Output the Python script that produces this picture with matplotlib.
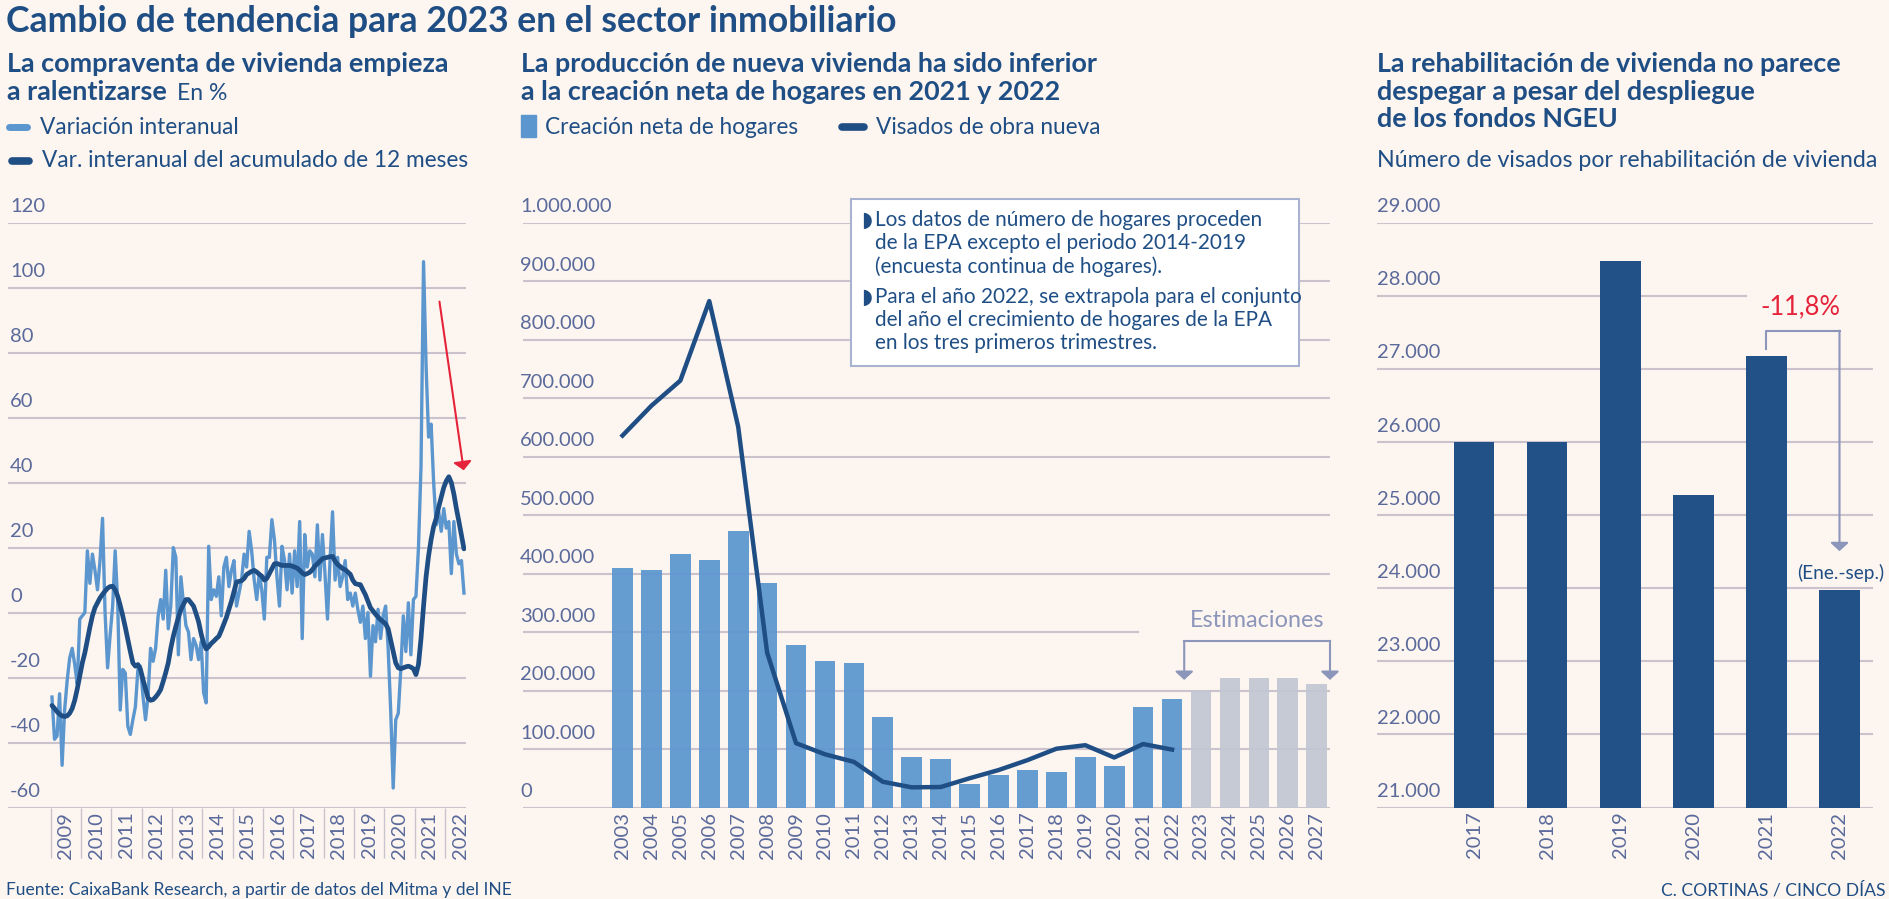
import matplotlib
matplotlib.use("Agg")
import matplotlib.pyplot as plt
from matplotlib import font_manager
from matplotlib.lines import Line2D
from matplotlib.patches import Rectangle
from matplotlib.transforms import offset_copy

# --- data ------------------------------------------------------------------
# Compraventa de vivienda (%), mensual ene-2009 .. ago-2022
var_interanual = [
    -26, -39, -38, -25, -47, -30, -21, -14, -11, -16, -22, -2,          # 2009
    -1, 0, 19, 9, 18, 13, 7, 16, 29, 0, -17, -7,                         # 2010
    2, 19, 3, -30, -17.5, -18.6, -35, -37.5, -33, -29, -17.5, -16.5,     # 2011
    -25.7, -33, -25.7, -11, -15, -11, -1, 4, -2, 13, -5, 2,              # 2012
    20, 17, -13, 11, 3, -4, -6, -14.5, -8, -10, -14.5, -9,               # 2013
    -24.7, -27.8, 20.4, 4, 7, 5, 11, -1, 14, 17, 8, 13,                  # 2014
    16, 2, 6, 10, 18, 14, 25, 19, 10, 4, 12, 7,                          # 2015
    -2, 17, 17, 28.6, 22.5, 11, 2, 20.4, 16, 7, 18, 6,                   # 2016
    19, 8, 28, -8, 24, 14, 19, 18, 11, 27, 10, 24,                       # 2017
    12, -2, 16, 31, 10, 17, 8, 11, 16, 4, 6, 2,                          # 2018
    6, 1, -3, 2, -8, 0, -19.6, -4, -9, 1, -8, -1,                        # 2019
    2, -11, -30, -54, -33, -31, -17.5, -1, -12, 3, -13, 4,               # 2020
    5, 20, 45, 108, 76, 54, 58, 40, 27, 31, 25, 32,                      # 2021
    26, 28, 12, 28, 18, 15, 16, 6,                                       # 2022
]
var_acumulado_12m = [
    -28.6, -29.5, -30.5, -31.3, -31.8, -32, -31.8, -31, -29.5, -27, -23.5, -19.5,
    -15.5, -12.4, -8.5, -4.5, -1, 1.5, 3, 4.5, 5.6, 6.6, 7.5, 8,
    8.1, 7, 5, 2.2, -1, -4.5, -8.3, -12, -15.5, -16.5, -16, -17.5,
    -20.6, -23.5, -26.3, -27, -26.8, -26, -25, -23.7, -21.2, -18.5, -15.5, -11,
    -7.3, -4.3, -1.5, 0.9, 2.5, 4, 4, 3, 2, -0.3, -2.8, -6.5,
    -9.5, -11.2, -10.5, -9.5, -8.8, -8, -7.3, -5.5, -3.5, -1.5, 1, 3.5,
    6.5, 9.4, 9.6, 9.8, 10.5, 11.7, 12.2, 12.7, 13, 12.5, 11.8, 11.2,
    10, 10.5, 12, 13.5, 15, 15.1, 14.8, 14.5, 14.5, 14.5, 14.5, 14.3,
    14, 13.7, 13, 12.2, 11.7, 12, 12.4, 13.2, 14.3, 15, 15.8, 16.6,
    16.8, 17, 17.2, 17.3, 15.8, 14.8, 14.2, 13.5, 13.2, 12.5, 11.8, 10,
    8.9, 8.7, 8.6, 7, 5.5, 3.5, 1.5, 0.5, -0.5, -1.4, -2.2, -2.8,
    -3.5, -5, -8.5, -12, -15.5, -17, -17.3, -17, -16.7, -16.5, -16.8, -17.3,
    -19.1, -16, -8, 2, 11, 17.5, 22.5, 26.5, 29, 32.5, 35.5, 38.5,
    40.5, 41.8, 40, 36.5, 32, 28, 23.8, 19.6,
]
years_compraventa = list(range(2009, 2023))

years_prod = list(range(2003, 2028))
first_estimate_year = 2023
creacion_hogares = [410000, 406000, 433000, 424000, 473000, 384000, 278000, 251000,
                    247000, 154000, 87000, 83000, 40000, 56000, 64500, 60000, 87000,
                    70500, 172000, 185600, 200000, 221600, 221600, 221600, 212000]
years_visados = list(range(2003, 2023))
visados_obra_nueva = [636000, 687000, 730000, 866000, 651000, 265000, 110000, 91000,
                      78000, 44000, 34500, 35000, 50000, 64000, 81000, 100500, 106500,
                      85500, 108500, 99000]

years_rehab = [2017, 2018, 2019, 2020, 2021, 2022]
visados_rehab = [26000, 26000, 28480, 25280, 27180, 23980]

left_ticks = [120, 100, 80, 60, 40, 20, 0, -20, -40, -60]
mid_ticks = list(range(0, 1000001, 100000))
right_ticks = list(range(21000, 29001, 1000))

# --- style -----------------------------------------------------------------
W, H = 1890, 899
TOP, BOTTOM = 222.7, 807.5
BG = "#FDF5EF"
NAVY = "#1F4E85"
BAR_NAVY = "#215186"
LIGHT = "#5B96CF"
GREY_BAR = "#C1C7D3"
TICK = "#5A6A9B"
GRID = "#CAC2CD"
ANNO = "#8C95BA"
RED = "#E5243B"

names = {f.name for f in font_manager.fontManager.ttflist}
SANS = "Lato" if "Lato" in names else "DejaVu Sans"
NARROW = "Liberation Sans Narrow" if "Liberation Sans Narrow" in names else SANS

fig = plt.figure(figsize=(W / 100, H / 100), dpi=100, facecolor=BG)
renderer = fig.canvas.get_renderer()


def fit(t, width):
    t.set_fontsize(t.get_fontsize() * width / t.get_window_extent(renderer).width)
    return t


def put(x, y, s, size, width=None, ha="left", **kw):
    kw.setdefault("color", NAVY)
    kw.setdefault("family", SANS)
    t = fig.text(x / W, 1 - y / H, s, fontsize=size, ha=ha, va="baseline", **kw)
    if width:
        fit(t, width)
    return t


def panel(x0, x1):
    ax = fig.add_axes([x0 / W, 1 - BOTTOM / H, (x1 - x0) / W, (BOTTOM - TOP) / H])
    ax.patch.set_visible(False)
    for s in ax.spines.values():
        s.set_visible(False)
    ax.tick_params(axis="y", left=False, labelleft=False)
    return ax


def ygrid(ax, ticks, xlab, cut=None):
    trans = offset_copy(ax.get_yaxis_transform(), fig=fig, y=10.5, units="dots")
    for v in ticks:
        xmax = (cut or {}).get(v, 1)
        ax.axhline(v, xmin=0, xmax=xmax, color=GRID, lw=1.5, zorder=1)
        ax.text(xlab, v, f"{v:,}".replace(",", "."), transform=trans, fontsize=14.5,
                color=TICK, family=SANS, va="baseline", ha="left")


def years_axis(ax, pos, labels):
    ax.set_xticks(pos)
    ax.set_xticklabels(labels, rotation=90, fontsize=14.5, color=TICK, family=SANS)
    ax.tick_params(axis="x", which="major", length=0, pad=3)


def arrow(ax, start, end, color):
    ax.annotate("", xy=end, xytext=start,
                arrowprops=dict(arrowstyle="-|>,head_length=0.5,head_width=0.55",
                                color=color, lw=1.5, shrinkA=0, shrinkB=0,
                                mutation_scale=10),
                annotation_clip=False)


# --- left: compraventa -------------------------------------------------------
ax1 = panel(8, 466)
ax1.set_xlim(-17.4, 163.8)
ax1.set_ylim(-60, 120)
ygrid(ax1, left_ticks, 0.0045)
months = range(len(var_interanual))
ax1.plot(months, var_interanual, color=LIGHT, lw=2.4, zorder=3)
ax1.plot(months, var_acumulado_12m, color=NAVY, lw=3.4, zorder=4,
         solid_capstyle="round")
years_axis(ax1, [12 * i + 5.5 for i in range(len(years_compraventa))],
           [str(y) for y in years_compraventa])
ax1.set_xticks([12 * i - 0.5 for i in range(len(years_compraventa))], minor=True)
ax1.tick_params(axis="x", which="minor", length=36, width=1, color=GRID)
arrow(ax1, (153.3, 95.7), (162.9, 43.8), RED)

# --- middle: hogares vs visados ----------------------------------------------
ax2 = panel(522.7, 1330)
ax2.set_xlim(-3.45, 24.46)
ax2.set_ylim(0, 1000000)
ygrid(ax2, mid_ticks, -0.0033, cut={300000: 0.762})
colors = [GREY_BAR if y >= first_estimate_year else LIGHT for y in years_prod]
ax2.bar(range(len(years_prod)), creacion_hogares, width=0.715, color=colors,
        alpha=0.93, zorder=2)
ax2.plot(range(len(years_visados)), visados_obra_nueva, color=NAVY, lw=3.2, zorder=4)
years_axis(ax2, range(len(years_prod)), [str(y) for y in years_prod])

ax2.plot([19.42, 24.46], [284900, 284900], color=ANNO, lw=1.5, clip_on=False, zorder=3)
arrow(ax2, (19.42, 284900), (19.42, 218200), ANNO)
arrow(ax2, (24.46, 284900), (24.46, 218200), ANNO)
fit(ax2.text(21.95, 308200, "Estimaciones", fontsize=16, color=ANNO, family=SANS,
             ha="center", va="baseline"), 135)

# note box
box = Rectangle((851 / W, 1 - 366 / H), (1299 - 851) / W, (366 - 199) / H,
                transform=fig.transFigure, facecolor="white", edgecolor="#A8B2D1",
                lw=1.5, zorder=4)
fig.add_artist(box)
note_lines = ["Los datos de número de hogares proceden",
              "de la EPA excepto el periodo 2014-2019",
              "(encuesta continua de hogares).",
              "Para el año 2022, se extrapola para el conjunto",
              "del año el crecimiento de hogares de la EPA",
              "en los tres primeros trimestres."]
note_y = [226, 249.3, 272.7, 302.7, 326, 349.3]
t0 = put(875, note_y[0], note_lines[0], 13, width=385, zorder=5)
note_size = t0.get_fontsize()
for s, y in zip(note_lines[1:], note_y[1:]):
    put(875, y, s, note_size, zorder=5)
for y in (note_y[0], note_y[3]):
    put(861, y, "\u25d7", note_size, family=[SANS, "DejaVu Sans"], zorder=5)

# --- right: rehabilitación ---------------------------------------------------
ax3 = panel(1377, 1872.7)
ax3.set_xlim(-1.327, 5.454)
ax3.set_ylim(21000, 29000)
ygrid(ax3, right_ticks, 0.0, cut={28000: 0.744})
ax3.bar(range(len(years_rehab)), visados_rehab, width=0.556, color=BAR_NAVY, zorder=2)
years_axis(ax3, range(len(years_rehab)), [str(y) for y in years_rehab])

ax3.plot([4, 4, 5], [27277, 27522, 27522], color=ANNO, lw=1.5, clip_on=False, zorder=3)
arrow(ax3, (5, 27522), (5, 24507), ANNO)
fit(ax3.text(4.47, 27746, "-11,8%", fontsize=22, color=RED, family=NARROW,
             ha="center", va="baseline"), 80)
fit(ax3.text(5.02, 24126, "(Ene.-sep.)", fontsize=13, color=NAVY, family=NARROW,
             ha="center", va="baseline"), 87)

# --- titles, legends, footer -------------------------------------------------
put(6, 31.7, "Cambio de tendencia para 2023 en el sector inmobiliario", 20,
    width=892, weight="bold")

t = put(7, 71.7, "La compraventa de vivienda empieza", 15, width=444, weight="bold")
put(7, 99.5, "a ralentizarse", t.get_fontsize(), weight="bold")
put(177, 99.5, "En %", 13, width=50)

t = put(521, 71.7, "La producción de nueva vivienda ha sido inferior", 15,
        width=578, weight="bold")
put(521, 99.5, "a la creación neta de hogares en 2021 y 2022", t.get_fontsize(),
    weight="bold")

t = put(1377, 71.7, "La rehabilitación de vivienda no parece", 15, width=465,
        weight="bold")
put(1377, 99.5, "despegar a pesar del despliegue", t.get_fontsize(), weight="bold")
put(1377, 127.3, "de los fondos NGEU", t.get_fontsize(), weight="bold")
put(1377, 167, "Número de visados por rehabilitación de vivienda", 14, width=504)

t = put(42, 167.3, "Var. interanual del acumulado de 12 meses", 14, width=426)
leg_size = t.get_fontsize()
put(40, 134, "Variación interanual", leg_size)
put(545, 134, "Creación neta de hogares", leg_size)
put(876, 134, "Visados de obra nueva", leg_size)

fig.add_artist(Line2D([9.5 / W, 27 / W], [1 - 127 / H] * 2, transform=fig.transFigure,
                      color=LIGHT, lw=5, solid_capstyle="round"))
fig.add_artist(Line2D([11.5 / W, 29 / W], [1 - 161 / H] * 2, transform=fig.transFigure,
                      color=NAVY, lw=5.5, solid_capstyle="round"))
fig.add_artist(Rectangle((521 / W, 1 - 137 / H), 15 / W, 22 / H,
                         transform=fig.transFigure, color=LIGHT))
fig.add_artist(Line2D([842 / W, 864 / W], [1 - 127 / H] * 2, transform=fig.transFigure,
                      color=NAVY, lw=5.5, solid_capstyle="round"))

put(6, 895, "Fuente: CaixaBank Research, a partir de datos del Mitma y del INE", 11,
    width=503)
put(1886, 895, "C. CORTINAS / CINCO DÍAS", 11, width=223, ha="right")

fig.savefig("out.png", dpi=100, facecolor=BG)
